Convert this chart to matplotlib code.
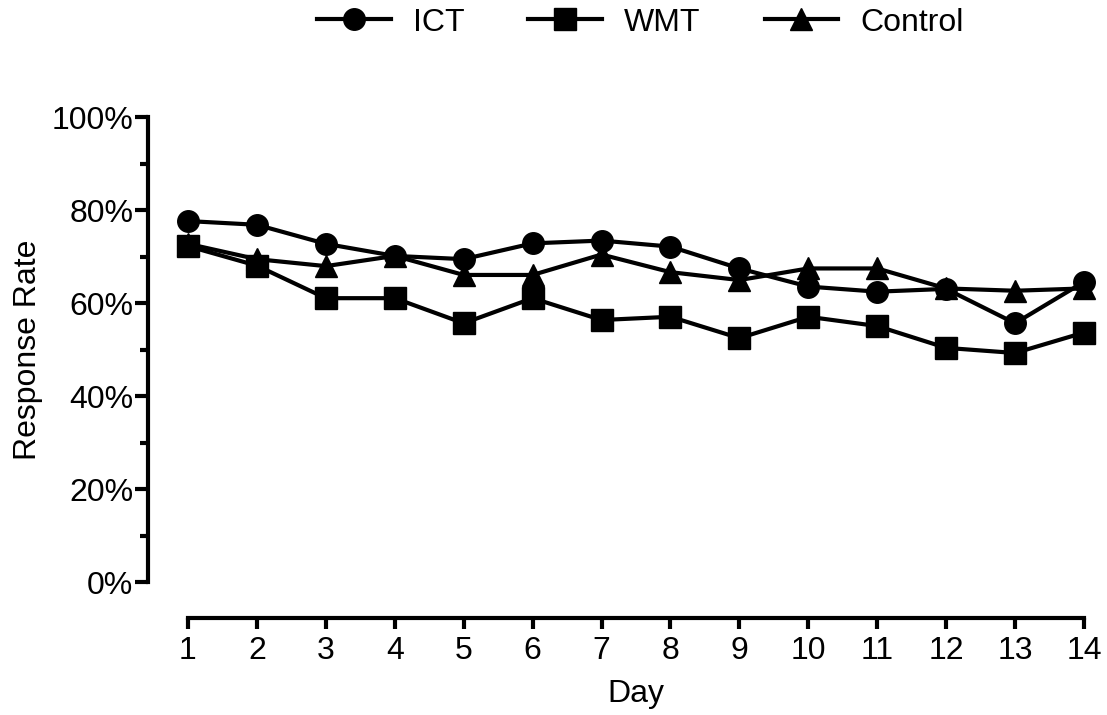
import matplotlib
matplotlib.use('Agg')
import matplotlib.pyplot as plt
from matplotlib.ticker import MultipleLocator, FuncFormatter

plt.rcParams['font.family'] = ['Liberation Sans', 'DejaVu Sans']

# Response rate per day
days = list(range(1, 15))
ict = [0.777, 0.769, 0.728, 0.702, 0.695, 0.729, 0.735, 0.722, 0.675, 0.636, 0.625, 0.631, 0.557, 0.646]
wmt = [0.723, 0.681, 0.611, 0.611, 0.557, 0.611, 0.564, 0.571, 0.525, 0.571, 0.551, 0.504, 0.493, 0.537]
control = [0.728, 0.695, 0.680, 0.702, 0.661, 0.661, 0.705, 0.667, 0.650, 0.675, 0.675, 0.632, 0.627, 0.632]

fig = plt.figure(figsize=(11.07, 7.15), dpi=100)
ax = fig.add_axes([0.1698, 0.186, 0.8094, 0.6497])

style = dict(color='black', linewidth=3, markersize=15.5, clip_on=False)
ax.plot(days, ict, marker='o', label='ICT', **style)
ax.plot(days, wmt, marker='s', label='WMT', **style)
ax.plot(days, control, marker='^', label='Control', **style)

ax.set_xlim(1, 14)
ax.set_ylim(0, 1)
ax.set_xticks(days)
ax.yaxis.set_major_locator(MultipleLocator(0.2))
ax.yaxis.set_minor_locator(MultipleLocator(0.1))
ax.yaxis.set_major_formatter(FuncFormatter(lambda v, p: f"{v*100:.0f}%"))

for side in ['top', 'right']:
    ax.spines[side].set_visible(False)
ax.spines['left'].set_position(('outward', 28.8))
ax.spines['bottom'].set_position(('outward', 25.9))
ax.spines['left'].set_linewidth(3)
ax.spines['bottom'].set_linewidth(3)
ax.spines['left'].set_bounds(0, 1)
ax.spines['bottom'].set_bounds(1, 14)

ax.tick_params(axis='both', which='major', width=3, length=9.5, labelsize=23)
ax.tick_params(axis='y', which='minor', width=3, length=6)
ax.tick_params(axis='y', which='major', pad=1)
ax.tick_params(axis='x', which='major', length=8, pad=5)

ax.set_xlabel('Day', fontsize=23, labelpad=9)
ax.set_ylabel('Response Rate', fontsize=23, labelpad=6)

ax.legend(loc='center', bbox_to_anchor=(0.505, 1.0 + 95 / 465), ncol=3, frameon=False,
          fontsize=23, handlelength=2.3, handletextpad=0.7, columnspacing=2.0)

fig.savefig('out.png', dpi=100)
